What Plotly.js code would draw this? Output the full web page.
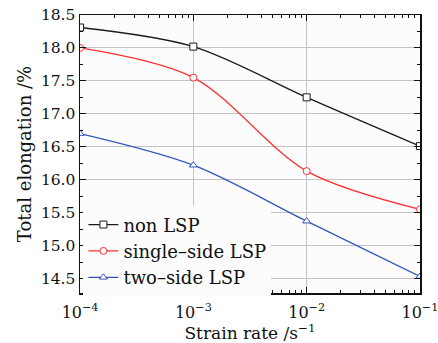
<!DOCTYPE html>
<html>
<head>
<meta charset="utf-8">
<script src="https://cdn.plot.ly/plotly-3.0.1.min.js"></script>
<style>html,body{margin:0;padding:0;background:#fff;}#chart{width:438px;height:343px;}</style>
</head>
<body>
<div id="chart"></div>
<script>
var strainRate = [1e-4, 1e-3, 1e-2, 1e-1];
var nonLSP = [18.31, 18.02, 17.25, 16.51];
var singleSideLSP = [18.00, 17.55, 16.13, 15.55];
var twoSideLSP = [16.70, 16.22, 15.37, 14.53];
var seriesNames = ['non LSP', 'single\u2013side LSP', 'two\u2013side LSP'];
var xTickVals = [1e-4, 1e-3, 1e-2, 1e-1];
var xTickText = ['10<sup>\u22124</sup>', '10<sup>\u22123</sup>', '10<sup>\u22122</sup>', '10<sup>\u22121</sup>'];
var xMinorVals = [2e-4,3e-4,4e-4,5e-4,6e-4,7e-4,8e-4,9e-4,2e-3,3e-3,4e-3,5e-3,6e-3,7e-3,8e-3,9e-3,2e-2,3e-2,4e-2,5e-2,6e-2,7e-2,8e-2,9e-2];

var FONT = 'DejaVu Serif, Liberation Serif, serif';
function mk(y, name, color, symbol) {
  return {
    x: strainRate, y: y, name: name, type: 'scatter', mode: 'lines+markers',
    line: {color: color, width: 1.3, shape: 'spline', smoothing: 0.9},
    marker: {symbol: symbol, size: 7, color: '#ffffff', line: {color: color, width: 1}}
  };
}
var data = [
  mk(nonLSP, seriesNames[0], '#1a1a1a', 'square'),
  mk(singleSideLSP, seriesNames[1], '#ff3030', 'circle'),
  mk(twoSideLSP, seriesNames[2], '#3355bb', 'triangle-up')
];
var layout = {
  width: 438, height: 343,
  margin: {l: 80, r: 18, t: 15, b: 50},
  paper_bgcolor: '#ffffff', plot_bgcolor: '#fcfcfc',
  font: {family: FONT, size: 15, color: '#111'},
  showlegend: true,
  legend: {x: 0.01, y: -0.012, xanchor: 'left', yanchor: 'bottom', bgcolor: '#fcfcfc',
           font: {family: FONT, size: 18, color: '#111'}, tracegroupgap: 0, itemwidth: 30},
  xaxis: {
    type: 'log', range: [-4.0005, -0.9995],
    tickvals: xTickVals, ticktext: xTickText,
    ticks: 'inside', ticklen: 6, tickcolor: '#111',
    showline: true, linecolor: '#111', linewidth: 1.5, mirror: 'allticks',
    showgrid: true, gridcolor: '#c4c4c4', gridwidth: 1,
    zeroline: false, ticklabeloverflow: 'allow', ticklabelstandoff: 4,
    tickfont: {family: FONT, size: 16},
    minor: {ticks: 'inside', ticklen: 3, tickcolor: '#111', showgrid: false, tickvals: xMinorVals},
    title: {text: 'Strain rate /s<sup>\u22121</sup>', font: {family: FONT, size: 17}, standoff: 8}
  },
  yaxis: {
    range: [14.28, 18.5], dtick: 0.5, tick0: 14.5, tickformat: '.1f',
    ticks: 'inside', ticklen: 6, tickcolor: '#111',
    showline: true, linecolor: '#111', linewidth: 1.5, mirror: 'allticks',
    showgrid: true, gridcolor: '#c4c4c4', gridwidth: 1,
    zeroline: false,
    tickfont: {family: FONT, size: 15.5},
    minor: {ticks: 'inside', ticklen: 3, tickcolor: '#111', dtick: 0.25, showgrid: false},
    title: {text: 'Total elongation /%', font: {family: FONT, size: 18}, standoff: 4}
  }
};
Plotly.newPlot('chart', data, layout, {displayModeBar: false, staticPlot: true});
</script>
</body>
</html>
